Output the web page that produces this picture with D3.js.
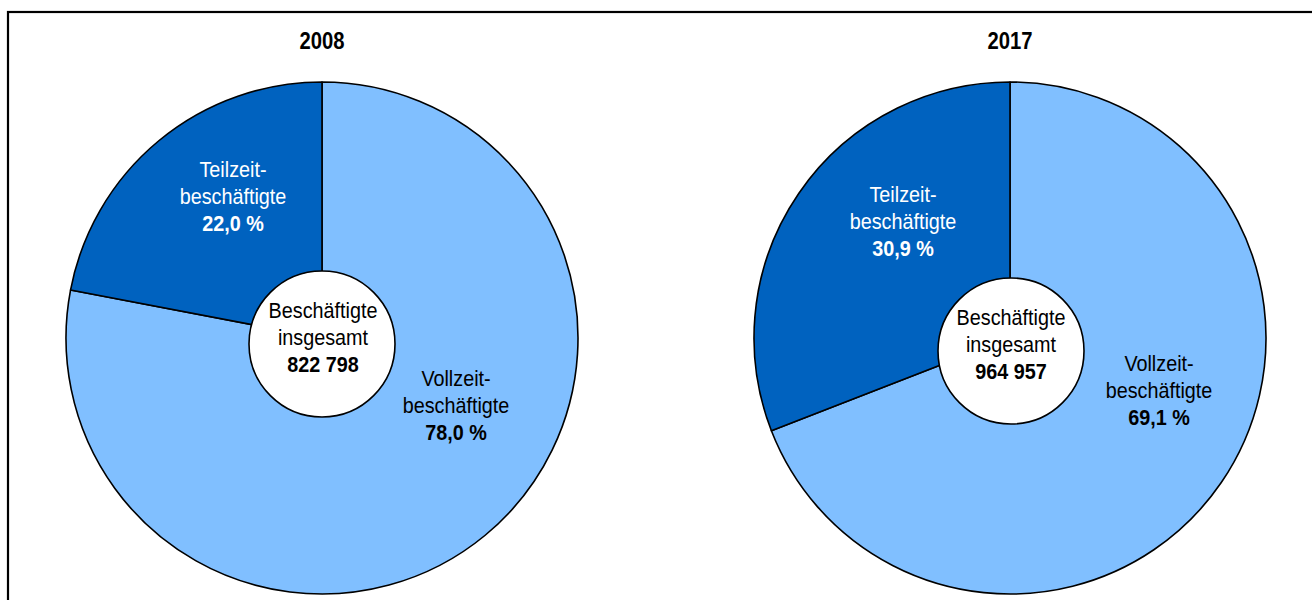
<!DOCTYPE html>
<html>
<head>
<meta charset="utf-8">
<script src="https://cdn.jsdelivr.net/npm/d3@7"></script>
<style>
  html, body { margin: 0; padding: 0; background: #fff; }
  svg { display: block; }
  text { font-family: "Liberation Sans", Arial, sans-serif; }
</style>
</head>
<body>
<svg id="chart" width="1312" height="600"></svg>
<script>
// ---- data ----
const years = ["2008", "2017"];
const categories = ["Vollzeit-", "Teilzeit-"];
const categorySuffix = "beschäftigte";
const vollzeit = [78.0, 69.1];
const teilzeit = [22.0, 30.9];
const totals = ["822 798", "964 957"];
const centerLabel = ["Beschäftigte", "insgesamt"];

// ---- layout ----
const W = 1312, H = 600;
const svg = d3.select("#chart");
const colors = d3.scaleOrdinal().domain(categories).range(["#80BFFF", "#0062BF"]);
const textColors = { "Vollzeit-": "#000", "Teilzeit-": "#fff" };
const radius = 256;
const holeR = 73;
const lineH = 27.5;
const fontSize = 22;
const squeeze = 0.9;

const pies = [
  { cx: 322, cy: 338, hole: [322, 344], textMid: [323, 345],
    labels: { "Vollzeit-": [456, 413], "Teilzeit-": [233, 204] } },
  { cx: 1010, cy: 338, hole: [1011, 351], textMid: [1011, 352],
    labels: { "Vollzeit-": [1159, 398], "Teilzeit-": [903, 229] } }
];

// frame
svg.append("rect")
  .attr("x", 8).attr("y", 12)
  .attr("width", W + 20).attr("height", H + 20)
  .attr("fill", "none").attr("stroke", "#000").attr("stroke-width", 2.2);

const pie = d3.pie().sort(null).value(d => d.value).startAngle(0).endAngle(2 * Math.PI);
const arc = d3.arc().innerRadius(0).outerRadius(radius);
const fmt = v => d3.format(".1f")(v).replace(".", ",") + " %";

function block(x, y, lines, color) {
  const t = svg.append("text")
    .attr("transform", `translate(${x},${y}) scale(${squeeze},1)`)
    .attr("text-anchor", "middle")
    .attr("font-size", fontSize)
    .attr("fill", color);
  lines.forEach((ln, k) => {
    t.append("tspan").attr("x", 0).attr("y", (k - 1) * lineH)
      .attr("font-weight", k === 2 ? "bold" : null)
      .text(ln);
  });
}

years.forEach((yr, i) => {
  const p = pies[i];
  const data = categories.map((c, k) => ({ cat: c, value: k === 0 ? vollzeit[i] : teilzeit[i] }));
  const g = svg.append("g").attr("transform", `translate(${p.cx},${p.cy})`);

  g.selectAll("path").data(pie(data)).join("path")
    .attr("d", arc)
    .attr("fill", d => colors(d.data.cat))
    .attr("stroke", "#000")
    .attr("stroke-width", 1.6)
    .attr("stroke-linejoin", "round");

  // title
  svg.append("text")
    .attr("transform", `translate(${p.cx},49) scale(0.88,1)`)
    .attr("text-anchor", "middle")
    .attr("font-size", 23).attr("font-weight", "bold")
    .text(yr);

  // slice labels
  data.forEach(d => {
    const [lx, ly] = p.labels[d.cat];
    block(lx, ly, [d.cat, categorySuffix, fmt(d.value)], textColors[d.cat]);
  });

  // center circle
  svg.append("circle")
    .attr("cx", p.hole[0]).attr("cy", p.hole[1]).attr("r", holeR)
    .attr("fill", "#fff").attr("stroke", "#000").attr("stroke-width", 1.6);

  block(p.textMid[0], p.textMid[1], [centerLabel[0], centerLabel[1], totals[i]], "#000");
});
</script>
</body>
</html>
